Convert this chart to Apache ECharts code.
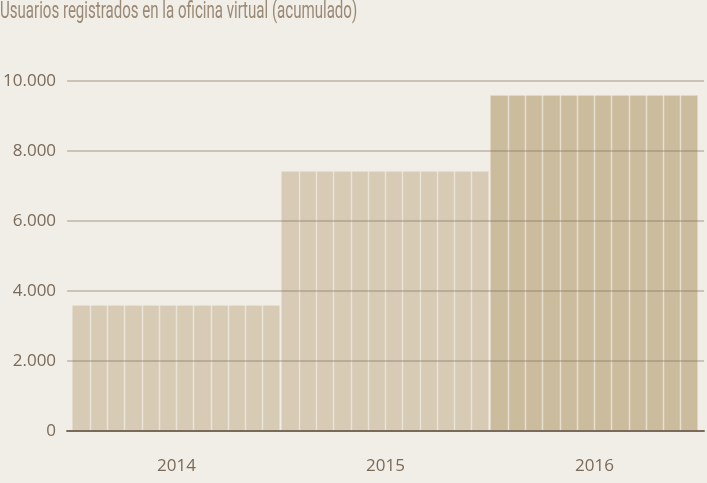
<!DOCTYPE html>
<html><head><meta charset="utf-8">
<script src="https://cdn.jsdelivr.net/npm/echarts@6/dist/echarts.min.js"></script>
<style>html,body{margin:0;padding:0;background:#f0eee7;}#c{width:707px;height:483px;}</style>
</head><body><div id="c"></div>
<script>
const title = 'Usuarios registrados en la oficina virtual (acumulado)';
const years = ['2014', '2015', '2016'];
const usuarios = [3600, 7430, 9600];
const barColors = ['#d7cbb6', '#d7cbb6', '#cbbc9e'];
const segmentsPerBar = 12;

function fmt(v) { return String(v).replace(/\B(?=(\d{3})+(?!\d))/g, '.'); }

const chart = echarts.init(document.getElementById('c'));
chart.setOption({
  backgroundColor: '#f0eee7',
  animation: false,
  graphic: [{
    type: 'text', left: 0, top: 1, scaleX: 0.655, z: 10,
    style: { text: title, fill: '#9a8975', fontSize: 23, fontFamily: 'Roboto', fontWeight: 400 }
  }],
  grid: [
    { left: 72, right: 8, top: 81, bottom: 52 },
    { left: 67, right: 3, top: 81, bottom: 52 }
  ],
  xAxis: [
    { type: 'category', gridIndex: 0, data: years,
      axisLine: { show: false }, axisTick: { show: false },
      axisLabel: { color: '#7a6a5a', fontSize: 17, fontFamily: 'Open Sans', margin: 27 } },
    { type: 'value', gridIndex: 1, min: 0, max: 1, z: 10,
      axisLine: { show: true, onZero: false, lineStyle: { color: '#7a6a5a', width: 2 } },
      axisTick: { show: false }, axisLabel: { show: false }, splitLine: { show: false } }
  ],
  yAxis: [
    { type: 'value', gridIndex: 0, min: 0, max: 10000, interval: 2000, show: false },
    { type: 'value', gridIndex: 1, min: 0, max: 10000, interval: 2000, z: 10,
      axisLine: { show: false }, axisTick: { show: false },
      axisLabel: { color: '#7a6a5a', fontSize: 17, fontFamily: 'Open Sans', margin: 11, formatter: fmt },
      splitLine: { lineStyle: { color: 'rgba(130,110,90,0.45)', width: 1.5 } } }
  ],
  series: [{
    type: 'custom', xAxisIndex: 0, yAxisIndex: 0,
    data: usuarios.map((v, i) => [i, v]),
    renderItem: function (params, api) {
      const idx = api.value(0), v = api.value(1);
      const top = api.coord([idx, v]);
      const base = api.coord([idx, 0]);
      const bandW = api.size([1, 0])[0];
      const x0 = top[0] - bandW / 2 + 0.5;
      const w = bandW - 2;
      const h = base[1] - top[1];
      const children = [{
        type: 'rect', shape: { x: x0, y: top[1], width: w, height: h },
        style: { fill: barColors[idx] }
      }];
      for (let k = 1; k < segmentsPerBar; k++) {
        const lx = Math.round(x0 + w * k / segmentsPerBar) + 0.5;
        children.push({ type: 'line', shape: { x1: lx, y1: top[1], x2: lx, y2: base[1] },
          style: { stroke: 'rgba(240,236,226,0.75)', lineWidth: 1.5 } });
      }
      children.push({ type: 'line', shape: { x1: x0, y1: top[1] + 0.5, x2: x0 + w, y2: top[1] + 0.5 },
        style: { stroke: 'rgba(240,236,226,0.6)', lineWidth: 1 } });
      return { type: 'group', children: children };
    }
  }]
});
</script></body></html>
